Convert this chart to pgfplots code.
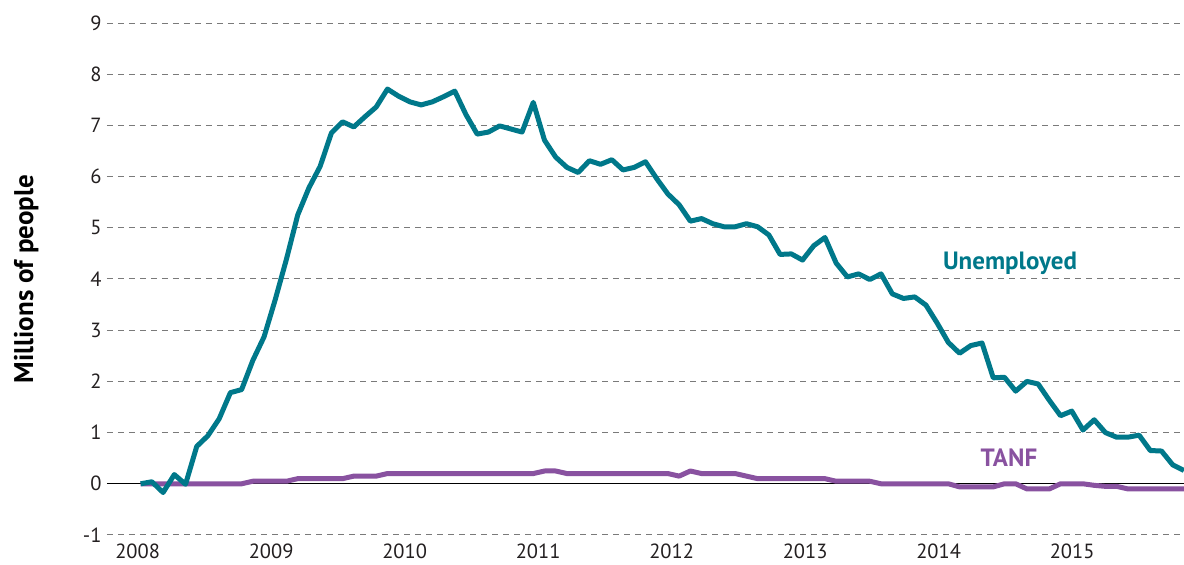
\documentclass[border=0pt]{standalone}
\usepackage{fontspec}
\setmainfont{PT Sans}
\usepackage{pgfplots}
\pgfplotsset{compat=1.18}
\usepackage{pgfplotstable}
\definecolor{teal1}{HTML}{00788A}
\definecolor{purp}{HTML}{8952A0}
\definecolor{gridg}{HTML}{7A7A7A}
\definecolor{txt}{HTML}{231F20}

\pgfplotstableread{
i u t
0 0 0
1 0.04 0
2 -0.17 0
3 0.18 0
4 -0.01 0
5 0.73 0
6 0.94 0
7 1.27 0
8 1.78 0
9 1.84 0
10 2.41 0.05
11 2.87 0.05
12 3.60 0.05
13 4.39 0.05
14 5.25 0.1
15 5.78 0.1
16 6.20 0.1
17 6.85 0.1
18 7.07 0.1
19 6.97 0.15
20 7.17 0.15
21 7.36 0.15
22 7.71 0.2
23 7.57 0.2
24 7.46 0.2
25 7.40 0.2
26 7.46 0.2
27 7.56 0.2
28 7.67 0.2
29 7.21 0.2
30 6.83 0.2
31 6.87 0.2
32 6.99 0.2
33 6.93 0.2
34 6.87 0.2
35 7.45 0.2
36 6.71 0.25
37 6.38 0.25
38 6.18 0.2
39 6.08 0.2
40 6.31 0.2
41 6.24 0.2
42 6.33 0.2
43 6.13 0.2
44 6.18 0.2
45 6.29 0.2
46 5.96 0.2
47 5.66 0.2
48 5.45 0.15
49 5.13 0.25
50 5.18 0.2
51 5.08 0.2
52 5.02 0.2
53 5.02 0.2
54 5.08 0.15
55 5.02 0.1
56 4.86 0.1
57 4.48 0.1
58 4.49 0.1
59 4.37 0.1
60 4.65 0.1
61 4.81 0.1
62 4.31 0.05
63 4.04 0.05
64 4.10 0.05
65 3.99 0.05
66 4.10 0
67 3.71 0
68 3.62 0
69 3.65 0
70 3.49 0
71 3.14 0
72 2.76 0
73 2.55 -0.06
74 2.70 -0.06
75 2.75 -0.06
76 2.07 -0.06
77 2.08 0
78 1.81 0
79 2.00 -0.1
80 1.95 -0.1
81 1.63 -0.1
82 1.33 0
83 1.42 0
84 1.05 0
85 1.25 -0.03
86 1.00 -0.05
87 0.91 -0.05
88 0.91 -0.1
89 0.95 -0.1
90 0.65 -0.1
91 0.64 -0.1
92 0.37 -0.1
93 0.26 -0.1
}\data

\begin{document}
\begin{tikzpicture}
\useasboundingbox (-107pt,-30pt) rectangle (1077pt,535pt);
\begin{axis}[
  at={(0,0)}, anchor=south west,
  scale only axis, width=1077pt, height=512pt,
  xmin=-3, xmax=93, ymin=-1, ymax=9,
  xtick={-0.27,11.63,23.53,35.43,47.33,59.23,71.13,83.03},
  xticklabels={2008,2009,2010,2011,2012,2013,2014,2015},
  ytick={-1,1,2,3,4,5,6,7,8,9},
  extra y ticks={0},
  extra y tick style={ymajorgrids=true, major grid style={solid, black, line width=0.9pt}},
  ymajorgrids,
  major grid style={gridg, dash pattern=on 6pt off 5pt, line width=1pt},
  axis line style={draw=none},
  major tick length=0pt,
  tick label style={font=\fontsize{20.5}{24}\selectfont, text=txt},
  /pgf/number format/assume math mode=true,
  yticklabel style={xshift=-2pt},
  xticklabel style={yshift=-5pt},
  ylabel={\bfseries Millions of people},
  ylabel style={at={(axis description cs:-0.075,0.5)}, anchor=center, font=\fontsize{27}{30}\selectfont, text=black},
]
\addplot[purp, line width=5pt, line join=round] table[x=i, y=t] {\data};
\addplot[teal1, line width=5pt, line join=round] table[x=i, y=u] {\data};
\node[font=\fontsize{25}{28}\selectfont\bfseries, text=teal1] at (axis cs:77.5,4.3) {Unemployed};
\node[font=\fontsize{25}{28}\selectfont\bfseries, text=purp] at (axis cs:77.4,0.5) {TANF};
\end{axis}
\end{tikzpicture}
\end{document}
